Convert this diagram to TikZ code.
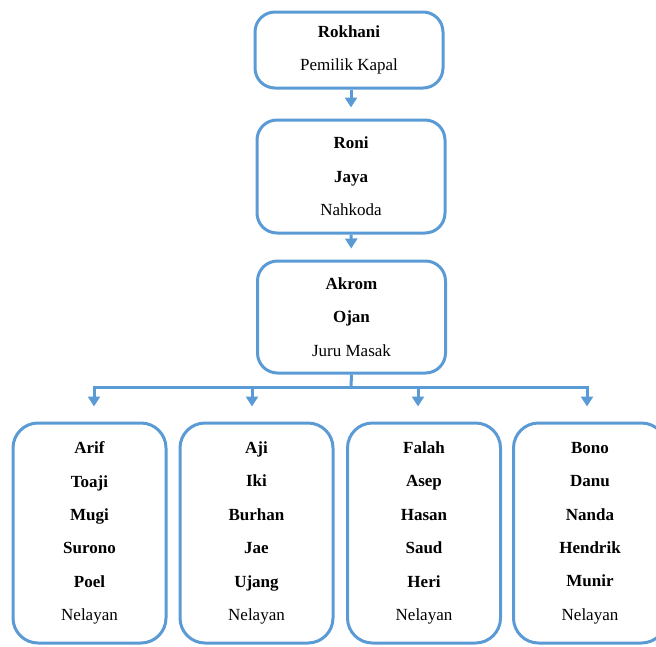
\documentclass[tikz,border=0pt]{standalone}
\usepackage{fontspec}
\setmainfont{Liberation Serif}
\usepackage{xcolor}
\usetikzlibrary{arrows.meta}
\definecolor{boxblue}{RGB}{91,155,213}

\begin{document}
\begin{tikzpicture}[x=1pt, y=-1pt,
    person/.style={draw=boxblue, line width=3pt, rounded corners=20pt, inner sep=0pt,
        align=center, font=\fontsize{17}{33.4}\selectfont},
    crew/.style={person, rounded corners=25pt, minimum width=153pt, minimum height=220pt},
    link/.style={draw=boxblue, line width=3pt},
    arrow/.style={link, -{Triangle[width=12pt, length=10pt]}}]
    \useasboundingbox (0, 0) rectangle (656, 646);

    \node[person, minimum width=188pt, minimum height=76pt] at (349, 50) (owner) {\textbf{Rokhani}\\Pemilik Kapal};
    \node[person, minimum width=188pt, minimum height=113pt] at (351, 176.5) (captain) {\textbf{Roni}\\\textbf{Jaya}\\Nahkoda};
    \node[person, minimum width=188pt, minimum height=112pt] at (351.5, 317) (cook) {\textbf{Akrom}\\\textbf{Ojan}\\Juru Masak};

    \node[crew] at (89.5, 533) (crewA) {\textbf{Arif}\\\textbf{Toaji}\\\textbf{Mugi}\\\textbf{Surono}\\\textbf{Poel}\\Nelayan};
    \node[crew] at (256.5, 533) (crewB) {\textbf{Aji}\\\textbf{Iki}\\\textbf{Burhan}\\\textbf{Jae}\\\textbf{Ujang}\\Nelayan};
    \node[crew] at (424, 533) (crewC) {\textbf{Falah}\\\textbf{Asep}\\\textbf{Hasan}\\\textbf{Saud}\\\textbf{Heri}\\Nelayan};
    \node[crew] at (590, 533) (crewD) {\textbf{Bono}\\\textbf{Danu}\\\textbf{Nanda}\\\textbf{Hendrik}\\\textbf{Munir}\\Nelayan};

    \coordinate (split) at (351, 387);

    \draw[arrow, shorten >=11pt] (owner.south -| captain.north) -- (captain.north);
    \draw[arrow, shorten >=11pt] (captain) -- (cook);
    \draw[link] (cook.south) -- (split);
    \draw[arrow, shorten >=15pt] (split) -| ([xshift=4.5pt]crewA.north);
    \draw[arrow, shorten >=15pt] (split) -| ([xshift=-4.5pt]crewB.north);
    \draw[arrow, shorten >=15pt] (split) -| ([xshift=-6pt]crewC.north);
    \draw[arrow, shorten >=15pt] (split) -| ([xshift=-3pt]crewD.north);
\end{tikzpicture}
\end{document}
